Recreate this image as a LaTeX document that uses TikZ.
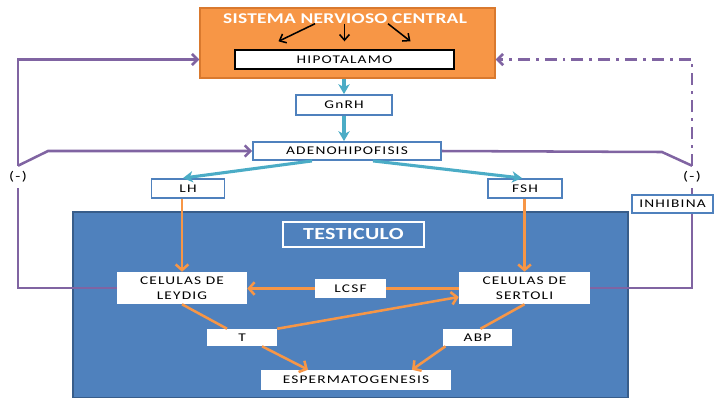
\documentclass[tikz,border=0pt]{standalone}
\usepackage{fontspec}
\setmainfont{Carlito}
\newfontfamily\boxfont[FakeStretch=1.3,LetterSpace=10]{Carlito}
\newfontfamily\titlefont[FakeStretch=1.3,LetterSpace=2]{Carlito}
\usetikzlibrary{arrows.meta}
\definecolor{sncfill}{HTML}{F79646}
\definecolor{sncline}{HTML}{D9792E}
\definecolor{gonadcyan}{HTML}{4BACC6}
\definecolor{testblue}{HTML}{4F81BD}
\definecolor{testline}{HTML}{385D8A}
\definecolor{fbpurple}{HTML}{8064A2}
\definecolor{horange}{HTML}{F79646}
\newdimen\px \px=0.025cm
\tikzset{
  lbl/.style={fill=white, inner sep=0pt, align=center,
    font=\boxfont\fontsize{8.4}{10.5}\selectfont},
  bluebox/.style={lbl, draw=testblue, line width=1.3pt},
  blackbox/.style={lbl, draw=black, line width=1pt},
  minus/.style={inner sep=0pt, minimum height=22\px, font=\boxfont\fontsize{9}{10}\selectfont},
  blackarrow/.style={line width=1.1pt, -{Straight Barb[length=4pt,width=7pt]}},
  cyanarrow/.style={draw=gonadcyan, line width=2.2pt, -{Stealth[length=7pt,width=8pt,inset=2pt]}},
  orangeline/.style={draw=horange, line width=1.8pt},
  orangearrow/.style={orangeline, -{Straight Barb[length=4pt,width=9pt]}},
  fbline/.style={draw=fbpurple, line width=1.8pt},
  fbarrow/.style={fbline, -{Straight Barb[length=4pt,width=8pt]}},
  fbdash/.style={fbarrow, dash pattern=on 8.5pt off 4.3pt on 2pt off 4.3pt}
}
\begin{document}
\begin{tikzpicture}[x=0.025cm, y=-0.025cm]
  \useasboundingbox (0,0) rectangle (714,397);
  % testiculo
  \fill[testblue, draw=testline, line width=0.8pt] (73,212) rectangle (628,398);
  \node[draw=white, line width=1.5pt, minimum width=141\px, minimum height=25\px,
    text=white, font=\titlefont\bfseries\fontsize{12}{13}\selectfont] (testi) at (353.5,234.5) {TESTICULO};
  % eje hipotalamo - hipofisis
  \node[draw=sncline, fill=sncfill, line width=1pt, minimum width=295\px, minimum height=70\px] (snc) at (347.5,43) {};
  \node[inner sep=0pt, text=white, font=\titlefont\bfseries\fontsize{10.6}{12}\selectfont] (sncT) at (345,18.5) {SISTEMA NERVIOSO CENTRAL};
  \node[blackbox, minimum width=219\px, minimum height=19\px] (hipo) at (344.5,59.5) {HIPOTALAMO};
  \node[bluebox, minimum width=96\px, minimum height=20\px] (gnrh) at (344,105) {GnRH};
  \node[bluebox, minimum width=188\px, minimum height=18\px] (adeno) at (347,151) {ADENOHIPOFISIS};
  \node[bluebox, minimum width=73\px, minimum height=19\px] (lh) at (188,188.5) {LH};
  \node[bluebox, minimum width=74\px, minimum height=19\px] (fsh) at (525,188.5) {FSH};
  % celulas
  \node[lbl, minimum width=130\px, minimum height=32\px] (leydig) at (182,288) {CELULAS DE\\LEYDIG};
  \node[lbl, minimum width=131\px, minimum height=32\px] (sertoli) at (524.5,288) {CELULAS DE\\SERTOLI};
  \node[lbl, minimum width=71\px, minimum height=19\px] (lcsf) at (350.5,288.5) {LCSF};
  \node[lbl, minimum width=70\px, minimum height=17\px] (t) at (242,337.5) {T};
  \node[lbl, minimum width=69\px, minimum height=17\px] (abp) at (477.5,337.5) {ABP};
  \node[lbl, minimum width=190\px, minimum height=20\px] (esp) at (356,380) {ESPERMATOGENESIS};
  \node[minus] (minusL) at (18,177) {(-)};
  \node[minus] (minusR) at (692,177) {(-)};
  \coordinate (bendL) at (48,151);
  \coordinate (bendR) at (662,152);

  \draw[blackarrow] ([xshift=-30\px]sncT.south) -- ([xshift=-66\px,yshift=8\px]hipo.north);
  \draw[blackarrow] (sncT.south -| hipo.north) -- ([yshift=8\px]hipo.north);
  \draw[blackarrow] ([xshift=43\px]sncT.south) -- ([xshift=66\px,yshift=8\px]hipo.north);

  \draw[cyanarrow] (snc.south -| gnrh.north) -- (gnrh.north);
  \draw[cyanarrow] (gnrh.south) -- (gnrh.south |- adeno.north);
  \draw[cyanarrow] ([xshift=-35\px]adeno.south) -- ([xshift=-5\px]lh.north);
  \draw[cyanarrow] ([xshift=26\px]adeno.south) -- ([xshift=-3\px]fsh.north);

  \draw[orangearrow] (lh.south -| leydig.north) -- (leydig.north);
  \draw[orangearrow] (fsh.south -| sertoli.north) -- (sertoli.north);
  \draw[orangeline] (sertoli.west |- lcsf.east) -- (lcsf.east);
  \draw[orangearrow] (lcsf.west) -- (leydig.east |- lcsf.west);
  \draw[orangeline] (leydig.south) -- ([xshift=-15\px]t.north);
  \draw[orangearrow] (t.north east) -- ([yshift=-9\px]sertoli.west);
  \draw[orangearrow] ([xshift=20\px]t.south) -- ([xshift=-48\px]esp.north);
  \draw[orangeline] (sertoli.south) -- ([xshift=3\px]abp.north);
  \draw[orangearrow] ([xshift=-32\px]abp.south) -- ([xshift=56\px]esp.north);

  % retroalimentacion
  \draw[fbline] (leydig.west) -| (minusL.south);
  \draw[fbarrow] (minusL.north) |- (hipo.west -| snc.west);
  \draw[fbarrow] (minusL.north) -- (bendL) -- (adeno.west);
  \draw[fbline] (sertoli.east) -| (minusR.south);
  \node[bluebox, minimum width=81\px, minimum height=18\px] (inhib) at (672.5,204) {INHIBINA};
  \draw[fbline] (adeno.east) -- (bendR) -- (minusR.north);
  \draw[fbdash] (minusR.north) |- (hipo.east -| snc.east);
\end{tikzpicture}
\end{document}
